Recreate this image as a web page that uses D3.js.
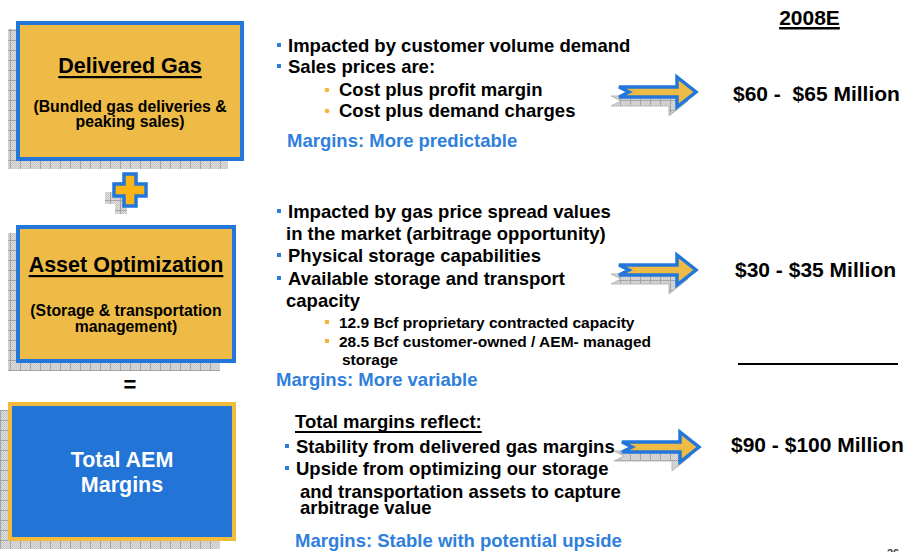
<!DOCTYPE html>
<html>
<head>
<meta charset="utf-8">
<script src="https://cdn.jsdelivr.net/npm/d3@7"></script>
<style>
  body { margin: 0; background: #fff; }
  text { font-family: "Liberation Sans", Arial, sans-serif; font-weight: bold; white-space: pre; }
</style>
</head>
<body>
<svg id="slide" width="906" height="552"></svg>
<script>
// ---- content ----
const yearLabel = "2008E";
const boxTitles = ["Delivered Gas", "Asset Optimization"];
const boxSubtitles = [["(Bundled gas deliveries &", "peaking sales)"], ["(Storage & transportation", "management)"]];
const totalTitle = ["Total AEM", "Margins"];

const gasLines = ["Impacted by customer volume demand", "Sales prices are:", "Cost plus profit margin", "Cost plus demand charges"];
const gasKinds = ["b", "b", "s", "s"];
const optLines = ["Impacted by gas price spread values", "in the market (arbitrage opportunity)", "Physical storage capabilities",
  "Available storage and transport", "capacity", "12.9 Bcf proprietary contracted capacity",
  "28.5 Bcf customer-owned / AEM- managed", "storage"];
const optKinds = ["b", "c", "b", "b", "c", "s", "s", "sc"];
const totalHeading = "Total margins reflect:";
const totalLines = ["Stability from delivered gas margins", "Upside from optimizing our storage",
  "and transportation assets to capture", "arbitrage value"];
const totalKinds = ["b", "b", "c", "c"];
const notes = ["Margins: More predictable", "Margins: More variable", "Margins: Stable with potential upside"];

const rangeLow = [60, 30, 90];
const rangeHigh = [65, 35, 100];
const rangeSep = [" -  ", " - ", " - "];

// ---- layout ----
const gold = "#eebb46", blue = "#2377db", noteBlue = "#2f80dc", orange = "#f6b534";
const rowIdx = [0, 1, 2];
const arrowY = d3.scaleOrdinal().domain(rowIdx).range([92, 270, 447]);
const arrowX = d3.scaleOrdinal().domain(rowIdx).range([617, 617, 620]);
const rangeY = d3.scaleOrdinal().domain(rowIdx).range([101, 277, 452]);
const rangeX = d3.scaleOrdinal().domain(rowIdx).range([733, 735, 731]);

const blocks = [
  { lines: gasLines, kinds: gasKinds, ys: [52, 73, 96, 117], size: 18.5, subSize: 18.5, bx: 277, tx: 288, cx: 287,
    sbx: 325, stx: 339, scx: 342, dot: "circle", noteX: 287, noteY: 147 },
  { lines: optLines, kinds: optKinds, ys: [218, 240, 262, 285, 307, 328, 347, 365], size: 18.5, subSize: 15.5, bx: 277, tx: 288, cx: 286,
    sbx: 325, stx: 339, scx: 342, dot: "rect", noteX: 276, noteY: 386 },
  { lines: totalLines, kinds: totalKinds, ys: [453, 475, 498, 514], size: 18.5, subSize: 18.5, bx: 285, tx: 296, cx: 300,
    sbx: 0, stx: 0, scx: 0, dot: "rect", noteX: 295, noteY: 547 }
];

const svg = d3.select("#slide");
const defs = svg.append("defs");

// grey textured shadow fill
const dots = defs.append("pattern").attr("id", "dots").attr("patternUnits", "userSpaceOnUse")
  .attr("width", 2).attr("height", 2);
dots.append("rect").attr("width", 2).attr("height", 2).attr("fill", "#dedede");
dots.append("rect").attr("width", 1).attr("height", 1).attr("fill", "#c2c2c2");
dots.append("rect").attr("x", 1).attr("y", 1).attr("width", 1).attr("height", 1).attr("fill", "#c9c9c9");
const hatch = defs.append("pattern").attr("id", "hatch").attr("patternUnits", "userSpaceOnUse")
  .attr("width", 10).attr("height", 10);
hatch.append("rect").attr("width", 10).attr("height", 10).attr("fill", "url(#dots)");
hatch.append("path").attr("d", "M0 0.5H10M0.5 0V10").attr("stroke", "#a4a4a4").attr("stroke-width", 1);

function underline(sel, gap, thick) {
  const bb = sel.node().getBBox();
  const y = +sel.attr("y") + gap;
  svg.append("rect").attr("x", bb.x).attr("y", y).attr("width", bb.width).attr("height", thick).attr("fill", "#000");
}

// ---- left boxes ----
const boxes = [
  { x: 16, y: 21, w: 228, h: 140, fill: gold, stroke: blue },
  { x: 16, y: 225, w: 220, h: 138, fill: gold, stroke: blue },
  { x: 8, y: 402, w: 228, h: 139, fill: "#2274d6", stroke: "#f1bb3e" }
];
boxes.forEach(b => {
  svg.append("rect").attr("x", b.x - 8).attr("y", b.y + 8).attr("width", b.w - 8).attr("height", b.h)
    .attr("fill", "url(#hatch)");
  svg.append("rect").attr("x", b.x + 2).attr("y", b.y + 2).attr("width", b.w - 4).attr("height", b.h - 4)
    .attr("fill", b.fill).attr("stroke", b.stroke).attr("stroke-width", 4);
});

const titleY = [73, 272];
const subY = [[112, 127], [316, 332]];
const boxCx = [130, 126];
boxTitles.forEach((t, i) => {
  const tt = svg.append("text").attr("x", boxCx[i]).attr("y", titleY[i]).attr("text-anchor", "middle")
    .attr("font-size", 21.5).attr("fill", "#000").text(t);
  underline(tt, 3, 2.2);
  boxSubtitles[i].forEach((s, j) => {
    svg.append("text").attr("x", boxCx[i]).attr("y", subY[i][j]).attr("text-anchor", "middle")
      .attr("font-size", 15.8).attr("fill", "#000").text(s);
  });
});
totalTitle.forEach((t, j) => {
  svg.append("text").attr("x", 122).attr("y", [467, 492][j]).attr("text-anchor", "middle")
    .attr("font-size", 21.5).attr("fill", "#fff").text(t);
});

// plus sign
function plusPath(cx, cy) {
  const a = 6, r = 16;
  const p = [[-a, -r], [a, -r], [a, -a], [r, -a], [r, a], [a, a], [a, r], [-a, r], [-a, a], [-r, a], [-r, -a], [-a, -a]];
  return d3.line()(p.map(d => [cx + d[0], cy + d[1]])) + "Z";
}
svg.append("path").attr("d", plusPath(121, 198)).attr("fill", "url(#hatch)");
svg.append("path").attr("d", plusPath(130, 190)).attr("fill", "#fdb515").attr("stroke", blue).attr("stroke-width", 3.5);

// equals sign
svg.append("text").attr("x", 130).attr("y", 392).attr("text-anchor", "middle").attr("font-size", 22)
  .attr("fill", "#000").text("=");

// ---- bullet blocks ----
blocks.forEach((b, i) => {
  b.lines.forEach((line, j) => {
    const k = b.kinds[j], y = b.ys[j];
    const sub = k === "s" || k === "sc";
    const fs = sub ? b.subSize : b.size;
    let x = k === "b" ? b.tx : k === "c" ? b.cx : k === "s" ? b.stx : b.scx;
    if (k === "b") {
      svg.append("rect").attr("x", b.bx).attr("y", y - 9).attr("width", 4).attr("height", 4).attr("fill", "#2e7dd8");
    }
    if (k === "s") {
      if (b.dot === "circle") {
        svg.append("circle").attr("cx", b.sbx + 2).attr("cy", y - 6).attr("r", 2.3).attr("fill", orange);
      } else {
        svg.append("rect").attr("x", b.sbx).attr("y", y - 8).attr("width", 4).attr("height", 4).attr("fill", orange);
      }
    }
    svg.append("text").attr("x", x).attr("y", y).attr("font-size", fs).attr("fill", "#000").text(line);
  });
  svg.append("text").attr("x", b.noteX).attr("y", b.noteY).attr("font-size", 18.5).attr("fill", noteBlue).text(notes[i]);
});
const th = svg.append("text").attr("x", 295).attr("y", 428).attr("font-size", 18.5).attr("fill", "#000").text(totalHeading);
underline(th, 3, 2);

// ---- arrows ----
function arrowPath(x0, cy) {
  const p = [[x0 + 2, cy - 5], [x0 + 60, cy - 5], [x0 + 60, cy - 15], [x0 + 79, cy], [x0 + 60, cy + 15],
    [x0 + 60, cy + 5], [x0 + 2, cy + 5], [x0 + 12, cy]];
  return d3.line()(p) + "Z";
}
rowIdx.forEach(i => {
  svg.append("path").attr("d", arrowPath(arrowX(i) - 8, arrowY(i) + 9))
    .attr("fill", "url(#hatch)").attr("stroke", "#b8b8b8").attr("stroke-width", 1);
  svg.append("path").attr("d", arrowPath(arrowX(i), arrowY(i)))
    .attr("fill", gold).attr("stroke", blue).attr("stroke-width", 3.5).attr("stroke-linejoin", "miter");
});

// ---- right column ----
const yr = svg.append("text").attr("x", 809.5).attr("y", 25).attr("text-anchor", "middle").attr("font-size", 21)
  .attr("fill", "#000").text(yearLabel);
underline(yr, 2, 2.5);

rowIdx.forEach(i => {
  svg.append("text").attr("x", rangeX(i)).attr("y", rangeY(i)).attr("font-size", 21).attr("fill", "#000")
    .text(`$${rangeLow[i]}${rangeSep[i]}$${rangeHigh[i]} Million`);
});
svg.append("line").attr("x1", 738).attr("x2", 898).attr("y1", 364).attr("y2", 364)
  .attr("stroke", "#000").attr("stroke-width", 2);

// page number (cut off at bottom edge)
svg.append("text").attr("x", 887).attr("y", 557).attr("font-size", 11).attr("font-weight", "normal")
  .attr("fill", "#444").text("26");
</script>
</body>
</html>
